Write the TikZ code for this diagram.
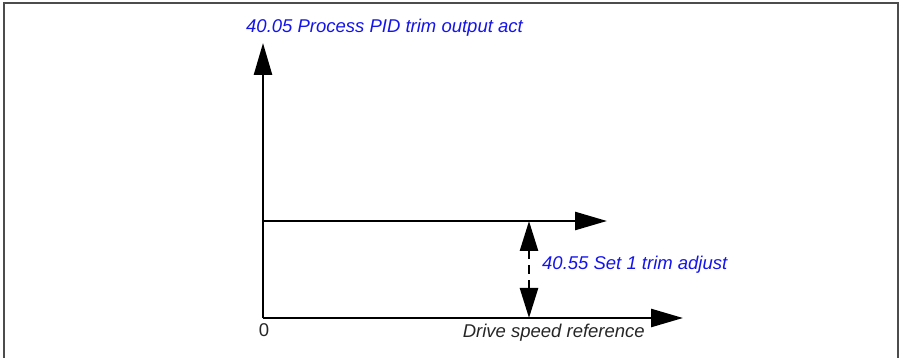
\documentclass[tikz,border=0pt]{standalone}
\usepackage{fontspec}
\setmainfont{Liberation Sans}
\usetikzlibrary{arrows.meta}
\definecolor{lblblue}{RGB}{20,20,235}
\tikzset{
  axis/.style={line width=2.6pt,-{Triangle[length=32pt,width=18pt]}},
  dimarrow/.style={line width=2.6pt,dash pattern=on 9pt off 6pt,{Triangle[length=30pt,width=18pt]}-{Triangle[length=30pt,width=18pt]}},
  bluelbl/.style={text=lblblue,font=\itshape\fontsize{18.5}{22}\selectfont,inner sep=0pt},
  blacklbl/.style={text=black!85,font=\itshape\fontsize{18.5}{22}\selectfont,inner sep=0pt},
  frame/.style={line width=1.6pt,draw=black!70}
}
\begin{document}
\begin{tikzpicture}[x=1pt,y=-1pt]
\useasboundingbox (0,0) rectangle (900,358);
\coordinate (bl) at (4,358);
\coordinate (tl) at (4,3);
\coordinate (tr) at (898,3);
\coordinate (br) at (898,358);
\draw[frame] (bl) -- (tl) -- (tr) -- (br);
\coordinate (o) at (263,318);
\coordinate (ytip) at (263,43);
\coordinate (xtip) at (683,318);
\coordinate (ts) at (263,221);
\coordinate (tt) at (607,221);
\coordinate (da) at (529,221);
\coordinate (db) at (529,318);
\draw[axis] (o) -- (ytip);
\draw[axis] (o) -- (xtip);
\draw[axis] (ts) -- (tt);
\draw[dimarrow] (da) -- (db);
\node[bluelbl,anchor=west] (ylab) at (246,28) {40.05 Process PID trim output act};
\node[bluelbl,anchor=west] (dlab) at (542,265) {40.55 Set 1 trim adjust};
\node[blacklbl,anchor=east] (xlab) at (645,333) {Drive speed reference};
\node[text=black!85,font=\fontsize{18.5}{22}\selectfont,inner sep=0pt] (zero) at (264,330) {0};
\end{tikzpicture}
\end{document}
